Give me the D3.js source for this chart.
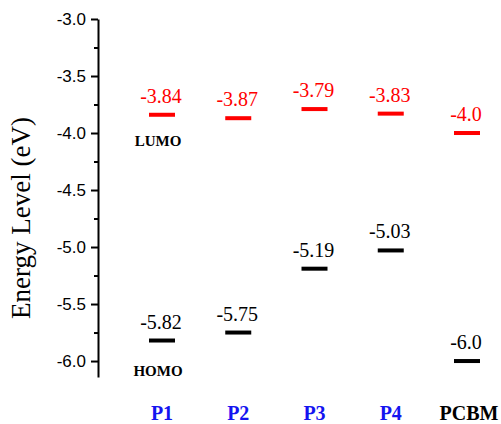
<!DOCTYPE html>
<html>
<head>
<meta charset="utf-8">
<script src="https://cdn.jsdelivr.net/npm/d3@7"></script>
<style>
  html, body { margin: 0; padding: 0; background: #fff; }
  svg { display: block; }
</style>
</head>
<body>
<svg id="chart" width="501" height="424"></svg>
<script>
// Frontier orbital energy levels of the polymers and the PCBM acceptor
const materials = ["P1", "P2", "P3", "P4", "PCBM"];
const lumoValues = [-3.84, -3.87, -3.79, -3.83, -4.0];
const homoValues = [-5.82, -5.75, -5.19, -5.03, -6.0];
const lumoLabels = ["-3.84", "-3.87", "-3.79", "-3.83", "-4.0"];
const homoLabels = ["-5.82", "-5.75", "-5.19", "-5.03", "-6.0"];
const materialColors = ["#1414f0", "#1414f0", "#1414f0", "#1414f0", "#000000"];
const majorTicks = [-3.0, -3.5, -4.0, -4.5, -5.0, -5.5, -6.0];
const minorTicks = [-3.25, -3.75, -4.25, -4.75, -5.25, -5.75];
const yDomain = [-6.14, -3.0];

const svg = d3.select("#chart");
const serif = "'Liberation Serif', 'Times New Roman', serif";
const sans = "'Liberation Sans', Arial, sans-serif";

const y = d3.scaleLinear().domain(yDomain).range([377, 19]);
const x = d3.scalePoint().domain(materials).range([162, 467]);

const barW = 26, barH = 4;

// y axis: major ticks with labels, minor ticks without
const axisX = 98;
const major = svg.append("g")
  .attr("transform", `translate(${axisX},0)`)
  .call(d3.axisLeft(y).tickValues(majorTicks).tickSize(7).tickSizeOuter(0)
    .tickPadding(5).tickFormat(d => d.toFixed(1)));
major.select(".domain").attr("stroke", "#000").attr("stroke-width", 2);
major.selectAll(".tick line").attr("stroke", "#000").attr("stroke-width", 2);
major.selectAll(".tick text")
  .attr("font-family", sans).attr("font-size", 17).attr("fill", "#000");

const minor = svg.append("g")
  .attr("transform", `translate(${axisX},0)`)
  .call(d3.axisLeft(y).tickValues(minorTicks).tickSize(4).tickSizeOuter(0).tickFormat(""));
minor.select(".domain").remove();
minor.selectAll(".tick line").attr("stroke", "#000").attr("stroke-width", 2);

// axis title
svg.append("text")
  .attr("transform", `translate(30,${(y(-3.0) + y(-6.14)) / 2 + 20}) rotate(-90)`)
  .attr("text-anchor", "middle")
  .attr("font-family", serif)
  .attr("font-size", 27)
  .attr("fill", "#000")
  .text("Energy Level (eV)");

// LUMO levels
const lumo = materials.map((m, i) => ({ m, v: lumoValues[i], label: lumoLabels[i] }));
const homo = materials.map((m, i) => ({ m, v: homoValues[i], label: homoLabels[i] }));

svg.append("g").selectAll("rect").data(lumo).join("rect")
  .attr("x", d => x(d.m) - barW / 2)
  .attr("y", d => y(d.v) - barH / 2)
  .attr("width", barW).attr("height", barH)
  .attr("fill", "#ff0000");

svg.append("g").selectAll("text").data(lumo).join("text")
  .attr("x", d => x(d.m) - 1)
  .attr("y", d => y(d.v) - 12)
  .attr("text-anchor", "middle")
  .attr("font-family", serif).attr("font-size", 20)
  .attr("fill", "#ff0000")
  .text(d => d.label);

// HOMO levels
svg.append("g").selectAll("rect").data(homo).join("rect")
  .attr("x", d => x(d.m) - barW / 2)
  .attr("y", d => y(d.v) - barH / 2)
  .attr("width", barW).attr("height", barH)
  .attr("fill", "#000");

svg.append("g").selectAll("text").data(homo).join("text")
  .attr("x", d => x(d.m) - 1)
  .attr("y", d => y(d.v) - 12)
  .attr("text-anchor", "middle")
  .attr("font-family", serif).attr("font-size", 20)
  .attr("fill", "#000")
  .text(d => d.label);

// orbital annotations beside P1
svg.append("text")
  .attr("x", x("P1") - 4).attr("y", y(lumoValues[0]) + 31)
  .attr("text-anchor", "middle")
  .attr("font-family", serif).attr("font-size", 15).attr("font-weight", "bold")
  .attr("fill", "#000").text("LUMO");
svg.append("text")
  .attr("x", x("P1") - 4).attr("y", y(homoValues[0]) + 35)
  .attr("text-anchor", "middle")
  .attr("font-family", serif).attr("font-size", 15).attr("font-weight", "bold")
  .attr("fill", "#000").text("HOMO");

// material names along the bottom
svg.append("g").selectAll("text").data(materials).join("text")
  .attr("x", d => x(d) + (d === "PCBM" ? 2 : 0))
  .attr("y", 420)
  .attr("text-anchor", "middle")
  .attr("font-family", serif).attr("font-size", 20).attr("font-weight", "bold")
  .attr("fill", (d, i) => materialColors[i])
  .text(d => d);
</script>
</body>
</html>
